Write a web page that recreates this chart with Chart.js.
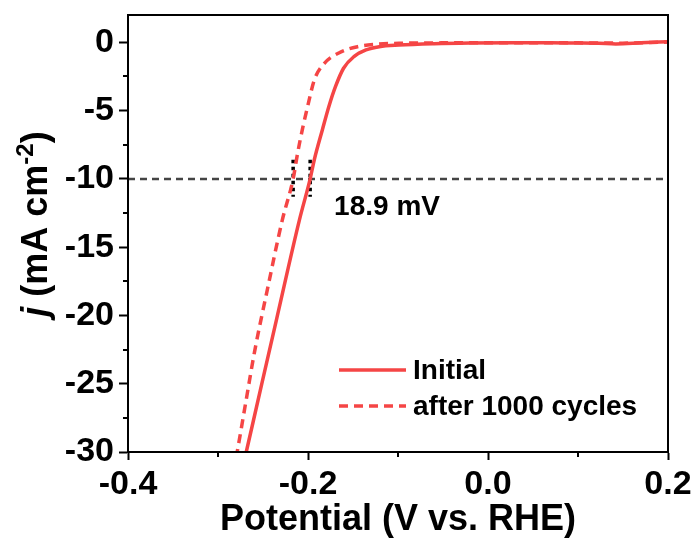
<!DOCTYPE html>
<html><head><meta charset="utf-8">
<script src="https://cdn.jsdelivr.net/npm/chart.js@4.4.1/dist/chart.umd.min.js"></script>
<style>html,body{margin:0;padding:0;background:#fff}#wrap{width:698px;height:543px}</style>
</head><body><div id="wrap"><canvas id="c" width="698" height="543"></canvas></div>
<script>
// ---- data ----
const initialV = [-0.2738, -0.2686, -0.2520, -0.2350, -0.2095, -0.1976, -0.1930, -0.1840, -0.1768, -0.1695, -0.1605, -0.1490, -0.1356, -0.1208, -0.0987, -0.0600, -0.0200, 0.0300, 0.0700, 0.0950, 0.1230, 0.1420, 0.1700, 0.2000];
const initialJ = [-31.5, -30.0, -25.2, -20.3, -13.0, -10.0, -8.6, -6.4, -4.7, -3.25, -1.9, -1.05, -0.56, -0.32, -0.20, -0.10, -0.05, -0.03, -0.03, -0.05, -0.07, -0.12, -0.04, 0.05];
const cycledV = [-0.2830, -0.2787, -0.2695, -0.2595, -0.2445, -0.2285, -0.2165, -0.2115, -0.2060, -0.2004, -0.1930, -0.1818, -0.1652, -0.1450, -0.1245, -0.0987, -0.0500, 0.0000, 0.0500, 0.1000, 0.1500, 0.2000];
const cycledJ = [-31.5, -30.0, -26.5, -22.7, -17.9, -13.0, -10.0, -8.1, -6.3, -4.7, -2.76, -1.54, -0.76, -0.32, -0.15, -0.07, -0.04, -0.03, -0.03, -0.04, -0.06, 0.02];
const refV = [-0.4, 0.2];
const refJ = [-10, -10];
const markerLeftV = [-0.2165, -0.2165];
const markerRightV = [-0.1976, -0.1976];
const markerJ = [-8.6, -11.3];
const xMajorTicks = [-0.4, -0.2, 0.0, 0.2];
const xMinorTicks = [-0.3, -0.1, 0.1];
const yMajorTicks = [0, -5, -10, -15, -20, -25, -30];
const yMinorTicks = [-2.5, -7.5, -12.5, -17.5, -22.5, -27.5];
const seriesLabels = ['Initial', 'after 1000 cycles'];
const xTitle = 'Potential (V vs. RHE)';
const annotationText = '18.9 mV';

// ---- chart ----
const FAM = '"Liberation Sans", Arial, Helvetica, sans-serif';
const RED = '#f54545';
const pts = (xs, ys) => xs.map((x, i) => ({x: x, y: ys[i]}));

const extras = {
  id: 'extras',
  afterDatasetsDraw(chart) {
    const ctx = chart.ctx, a = chart.chartArea;
    const xs = chart.scales.x, ys = chart.scales.y;
    ctx.save();
    // minor ticks
    ctx.strokeStyle = '#000'; ctx.lineWidth = 2;
    ctx.beginPath();
    xMinorTicks.forEach(v => { const px = Math.round(xs.getPixelForValue(v)); ctx.moveTo(px, a.bottom); ctx.lineTo(px, a.bottom + 5); });
    yMinorTicks.forEach(v => { const py = Math.round(ys.getPixelForValue(v)); ctx.moveTo(a.left, py); ctx.lineTo(a.left - 5, py); });
    ctx.stroke();
    // frame
    ctx.lineWidth = 2;
    ctx.strokeRect(a.left, a.top, a.right - a.left, a.bottom - a.top);
    // annotation
    ctx.fillStyle = '#000';
    ctx.font = 'bold 28px ' + FAM;
    ctx.textAlign = 'left'; ctx.textBaseline = 'middle';
    ctx.fillText(annotationText, xs.getPixelForValue(-0.171), ys.getPixelForValue(-12.1));
    // legend
    const ds = chart.data.datasets;
    const lx0 = 339, lx1 = 406, ly = [370, 406];
    [0, 1].forEach(i => {
      ctx.strokeStyle = ds[i].borderColor; ctx.lineWidth = ds[i].borderWidth;
      ctx.setLineDash(ds[i].borderDash || []);
      ctx.beginPath(); ctx.moveTo(lx0, ly[i]); ctx.lineTo(lx1, ly[i]); ctx.stroke();
      ctx.setLineDash([]);
      ctx.fillStyle = '#000';
      ctx.fillText(ds[i].label, 413, ly[i] + 1);
    });
    // y title
    const parts = [
      {t: 'j', f: 'italic bold 36px ' + FAM, dy: 0},
      {t: ' (mA cm', f: 'bold 36px ' + FAM, dy: 0},
      {t: '-2', f: 'bold 24px ' + FAM, dy: -14},
      {t: ')', f: 'bold 36px ' + FAM, dy: 0}
    ];
    let total = 0;
    parts.forEach(p => { ctx.font = p.f; p.w = ctx.measureText(p.t).width; total += p.w; });
    ctx.translate(47, 224);
    ctx.rotate(-Math.PI / 2);
    ctx.textAlign = 'left'; ctx.textBaseline = 'alphabetic'; ctx.fillStyle = '#000';
    let cx = -total / 2;
    parts.forEach(p => { ctx.font = p.f; ctx.fillText(p.t, cx, p.dy); cx += p.w; });
    ctx.restore();
  }
};

new Chart(document.getElementById('c'), {
  type: 'line',
  data: {
    datasets: [
      {label: seriesLabels[0], data: pts(initialV, initialJ), borderColor: RED, borderWidth: 3.5, pointRadius: 0, cubicInterpolationMode: 'monotone', order: 0},
      {label: seriesLabels[1], data: pts(cycledV, cycledJ), borderColor: RED, borderWidth: 3.5, borderDash: [9, 6], pointRadius: 0, cubicInterpolationMode: 'monotone', order: 0},
      {label: 'ref', data: pts(refV, refJ), borderColor: '#444', borderWidth: 2.5, borderDash: [7, 5], pointRadius: 0, tension: 0, order: 1},
      {label: 'mA', data: pts(markerLeftV, markerJ), borderColor: '#000', borderWidth: 3.5, borderDash: [3.5, 3.5], pointRadius: 0, tension: 0, order: 1},
      {label: 'mB', data: pts(markerRightV, markerJ), borderColor: '#000', borderWidth: 3.5, borderDash: [3.5, 3.5], pointRadius: 0, tension: 0, order: 1}
    ]
  },
  options: {
    responsive: false, animation: false, devicePixelRatio: 1,
    layout: {padding: {top: 15, right: 30, left: 0, bottom: 0}},
    plugins: {legend: {display: false}, tooltip: {enabled: false}},
    scales: {
      x: {
        type: 'linear', min: -0.4, max: 0.2,
        afterBuildTicks: s => { s.ticks = xMajorTicks.map(v => ({value: v})); },
        afterFit: s => { s.height = 91; s.paddingLeft = 0; s.paddingRight = 0; },
        grid: {drawOnChartArea: false, drawTicks: true, tickLength: 8, tickWidth: 2, tickColor: '#000'},
        border: {display: true, color: '#000', width: 2},
        ticks: {color: '#000', padding: 4, maxRotation: 0, autoSkip: false,
          font: {family: FAM, size: 34, weight: 'bold'},
          callback: v => (Math.abs(v) < 1e-9 ? '0.0' : Number(v).toFixed(1))},
        title: {display: true, text: xTitle, color: '#000', padding: {top: 0, bottom: 1},
          font: {family: FAM, size: 36, weight: 'bold'}}
      },
      y: {
        type: 'linear', min: -30, max: 2,
        afterBuildTicks: s => { s.ticks = yMajorTicks.map(v => ({value: v})); },
        afterFit: s => { s.width = 128; s.paddingTop = 0; s.paddingBottom = 0; },
        grid: {drawOnChartArea: false, drawTicks: true, tickLength: 9, tickWidth: 2, tickColor: '#000'},
        border: {display: true, color: '#000', width: 2},
        ticks: {color: '#000', padding: 5, autoSkip: false,
          font: {family: FAM, size: 34, weight: 'bold'},
          callback: v => String(v)}
      }
    }
  },
  plugins: [extras]
});
</script>
</body></html>
